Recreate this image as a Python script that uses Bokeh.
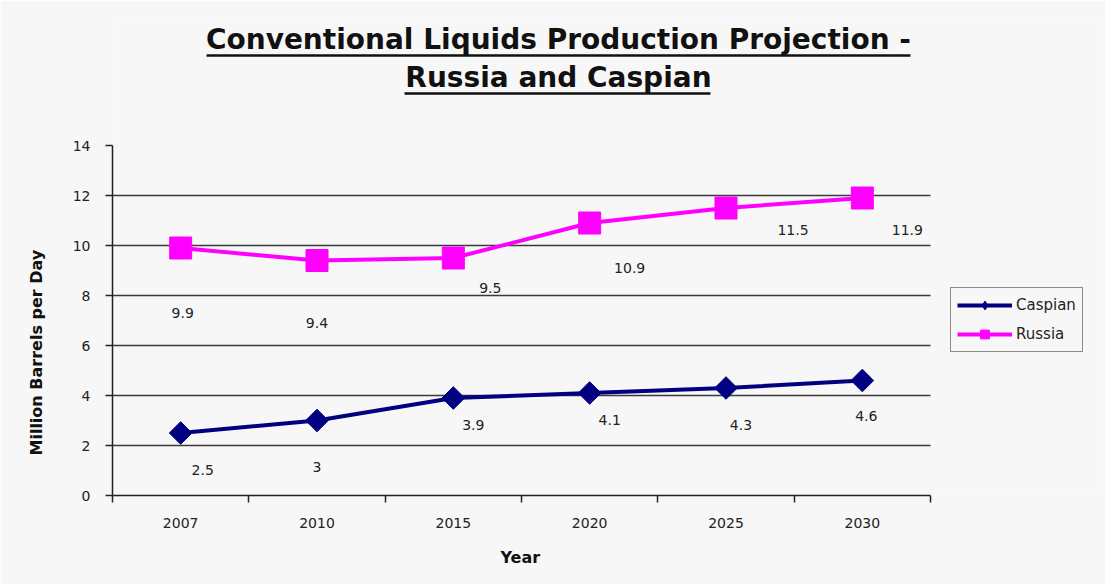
import math
from bokeh.plotting import figure
from bokeh.models import (Range1d, FixedTicker, LinearAxis, ColumnDataSource, Label,
                          BoxAnnotation, Legend, LegendItem, Title)
from bokeh.core.properties import value
from bokeh.embed import file_html
from bokeh.resources import INLINE

# ---- data ----
years = ["2007", "2010", "2015", "2020", "2025", "2030"]
caspian = [2.5, 3.0, 3.9, 4.1, 4.3, 4.6]
russia = [9.9, 9.4, 9.5, 10.9, 11.5, 11.9]
caspian_labels = ["2.5", "3", "3.9", "4.1", "4.3", "4.6"]
russia_labels = ["9.9", "9.4", "9.5", "10.9", "11.5", "11.9"]
y_ticks = [0, 2, 4, 6, 8, 10, 12, 14]
grid_ticks = [2, 4, 6, 8, 10, 12]

# label pixel offsets (style)
rus_dx = [2, 0, 37, 40, 67, 45]
rus_dy = [65, 62, 30, 45, 22, 32]
cas_dx = [22, 0, 20, 20, 15, 4]
cas_dy = [37, 46, 27, 27, 37, 35]

n = len(years)
xs = [i + 0.5 for i in range(n)]
bounds_x = [float(i) for i in range(n + 1)]

FONT = "DejaVu Sans"
BG = "#f7f7f7"
W, H = 1105, 584
LEFT, RIGHT, TOP, BOTTOM = 112, 2, 20, 89
CAT_PX = 818 / n                     # pixel width of one category
x_end = (W - LEFT - RIGHT) / CAT_PX  # frame extends to the right to host the legend

p = figure(width=W, height=H, x_range=Range1d(0, x_end), y_range=Range1d(0, 19),
           output_backend="svg", toolbar_location=None,
           x_axis_type=None, y_axis_type=None,
           min_border_left=LEFT, min_border_right=RIGHT, min_border_top=TOP,
           min_border_bottom=BOTTOM,
           background_fill_color=BG, border_fill_color=BG)
p.outline_line_color = None

# axes
xaxis = LinearAxis(ticker=FixedTicker(ticks=xs, minor_ticks=bounds_x), bounds=(0, n),
                   major_label_overrides={x: y for x, y in zip(xs, years)},
                   major_tick_out=0, major_tick_in=0, minor_tick_out=7, minor_tick_in=0,
                   minor_tick_line_color="#222222", minor_tick_line_width=1.5,
                   axis_line_color="#222222", axis_line_width=1.5,
                   major_label_standoff=15, major_label_text_font=FONT,
                   major_label_text_font_size="14px", major_label_text_color="#222222")
p.add_layout(xaxis, "below")
p.add_layout(Title(text="Year", align="left", offset=388, standoff=30,
                   text_font=FONT, text_font_style="bold", text_font_size="16px",
                   text_color="#111111"), "below")

yaxis = LinearAxis(ticker=FixedTicker(ticks=y_ticks), bounds=(0, 14),
                   major_tick_out=7, major_tick_in=0, minor_tick_out=0, minor_tick_in=0,
                   major_tick_line_color="#222222", major_tick_line_width=1.5,
                   axis_line_color="#222222", axis_line_width=1.5,
                   major_label_standoff=15, major_label_text_font=FONT,
                   major_label_text_font_size="14px", major_label_text_color="#222222")
p.add_layout(yaxis, "left")
p.add_layout(Title(text="Million Barrels per Day", align="left", offset=40, standoff=47,
                   text_font=FONT, text_font_style="bold", text_font_size="16px",
                   text_color="#111111"), "left")

# horizontal gridlines across the category area only
p.segment(x0=[0] * len(grid_ticks), x1=[n] * len(grid_ticks), y0=grid_ticks, y1=grid_ticks,
          line_color="#3a3a3a", line_width=1.4)

# series
src_c = ColumnDataSource(dict(x=xs, y=caspian, label=caspian_labels, dx=cas_dx, dy=cas_dy))
src_r = ColumnDataSource(dict(x=xs, y=russia, label=russia_labels, dx=rus_dx, dy=rus_dy))

NAVY = "#000080"
MAG = "#ff00ff"

lc = p.line("x", "y", source=src_c, line_color=NAVY, line_width=4)
p.scatter("x", "y", source=src_c, marker="square", angle=math.pi / 4, size=16,
          fill_color=NAVY, line_color=NAVY)
lr = p.line("x", "y", source=src_r, line_color=MAG, line_width=4)
p.scatter("x", "y", source=src_r, marker="square", size=22, fill_color=MAG, line_color=MAG)

for src in (src_c, src_r):
    p.text("x", "y", text="label", x_offset="dx", y_offset="dy", source=src,
           text_font=value(FONT), text_font_size="14px", text_align="center",
           text_baseline="middle", text_color="#222222")

# legend (small markers; NaN positions so they only appear in the legend)
nan = float("nan")
mc = p.scatter(x=[nan], y=[nan], marker="diamond", size=13,
               fill_color=NAVY, line_color=NAVY)
mr = p.scatter(x=[nan], y=[nan], marker="square", size=12, fill_color=MAG, line_color=MAG)
legend = Legend(items=[LegendItem(label="Caspian", renderers=[lc, mc]),
                       LegendItem(label="Russia", renderers=[lr, mr])],
                location=(838, 143), orientation="vertical",
                border_line_color="#222222", border_line_width=1.5,
                background_fill_color=BG, background_fill_alpha=1,
                glyph_width=55, glyph_height=22, label_standoff=4,
                label_text_font=FONT, label_text_font_size="15px",
                label_text_color="#222222", padding=6, spacing=7, margin=0)
p.add_layout(legend, "center")

# title (two underlined lines)
title1 = "Conventional Liquids Production Projection -"
title2 = "Russia and Caspian"
p.add_layout(Label(x=3.271, y=18.24, text=title1, text_font=FONT, text_font_style="bold",
                   text_font_size="28px", text_align="center", text_baseline="alphabetic",
                   text_color="#111111"))
p.add_layout(Label(x=3.271, y=16.72, text=title2, text_font=FONT, text_font_style="bold",
                   text_font_size="28px", text_align="center", text_baseline="alphabetic",
                   text_color="#111111"))
p.add_layout(BoxAnnotation(left=0.690, right=5.853, bottom=17.55, top=17.65,
                           fill_color="#111111", fill_alpha=1, line_color=None))
p.add_layout(BoxAnnotation(left=2.142, right=4.386, bottom=16.03, top=16.13,
                           fill_color="#111111", fill_alpha=1, line_color=None))

open("out.html", "w").write(file_html(p, INLINE))
